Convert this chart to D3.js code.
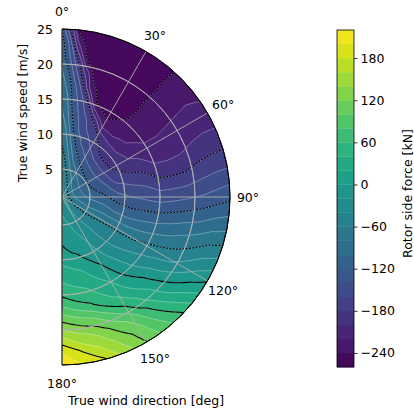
<!DOCTYPE html>
<html>
<head>
<meta charset="utf-8">
<script src="https://cdn.jsdelivr.net/npm/d3@7"></script>
<style>
  body { margin: 0; background: #ffffff; }
  svg { display: block; font-family: "DejaVu Sans", sans-serif; }
</style>
</head>
<body>
<svg id="chart" width="414" height="412"></svg>
<script>
// True wind direction [deg] (columns) and true wind speed [m/s] (rows)
const windAngles = [0, 3, 6, 10, 15, 20, 30, 40, 50, 60, 70, 80, 90, 105, 120, 135, 150, 165, 180];
const windSpeeds = [1, 3, 5, 7, 9, 11, 13, 15, 17, 19, 21, 23, 25];

// Rotor side force [kN], one row per wind speed
const force01 = [-35, -35, -35, -35, -35, -35, -35, -35, -35, -35, -35, -35, -35, -35, -35, -35, -35, -35, -35];
const force03 = [-40, -41, -43, -47, -53, -59, -70, -78, -84, -88, -89, -88, -84, -75, -63, -50, -38, -28, -22];
const force05 = [-48, -51, -56, -64, -75, -85, -100, -110, -115, -117, -117, -113, -105, -88, -67, -48, -32, -20, -13];
const force07 = [-55, -60, -70, -85, -103, -115, -133, -142, -146, -145, -138, -128, -116, -92, -64, -44, -25, -12, -5];
const force09 = [-62, -70, -84, -105, -125, -140, -160, -178, -183, -180, -170, -152, -132, -103, -62, -42, -18, -4, 6];
const force11 = [-70, -80, -100, -125, -145, -158, -178, -198, -200, -196, -180, -160, -140, -108, -63, -38, -8, 14, 22];
const force13 = [-78, -88, -115, -135, -155, -172, -236, -232, -220, -205, -186, -165, -145, -105, -62, -28, 6, 28, 38];
const force15 = [-85, -97, -122, -145, -175, -238, -246, -239, -228, -216, -200, -177, -150, -102, -55, -18, 20, 44, 56];
const force17 = [-92, -105, -130, -165, -228, -248, -248, -241, -230, -216, -202, -178, -147, -96, -50, -2, 34, 63, 86];
const force19 = [-98, -118, -150, -195, -246, -250, -249, -241, -228, -214, -200, -176, -143, -88, -44, 14, 60, 102, 122];
const force21 = [-105, -135, -172, -238, -250, -252, -250, -242, -226, -212, -195, -168, -138, -82, -30, 28, 92, 134, 160];
const force23 = [-110, -145, -215, -250, -253, -254, -251, -242, -225, -210, -192, -163, -132, -72, -15, 48, 111, 157, 196];
const force25 = [-120, -180, -243, -251, -255, -256, -254, -243, -228, -213, -190, -160, -125, -68, -2, 67, 122, 182, 215];
const sideForce = [force01, force03, force05, force07, force09, force11, force13,
                   force15, force17, force19, force21, force23, force25];

// Filled levels, labelled contour levels and tick labels
const fillLevels = d3.range(-260, 221, 20);
const lineLevels = d3.range(-240, 181, 60);
const angleTicks = [0, 30, 60, 90, 120, 150, 180];
const speedTicks = [5, 10, 15, 20, 25];
const colorTicks = [-240, -180, -120, -60, 0, 60, 120, 180];

const svg = d3.select("#chart");
const cx = 62, cy = 197, R = 168;
const fontSize = 12.5;

const rScale = d3.scaleLinear().domain([1, 25]).range([0, R]);
const aScale = d3.scaleLinear().domain([0, 180]).range([0, Math.PI]);
const cScale = d3.scaleLinear().domain([fillLevels[0], fillLevels[fillLevels.length - 1]]).range([0, 1]);
const bandColor = lo => d3.interpolateViridis(cScale(lo + 10));

const n = windAngles.length, m = windSpeeds.length;
const grid = [];
for (let j = 0; j < m; j++) for (let i = 0; i < n; i++) grid.push(sideForce[j][i]);

const angAt = d3.scaleLinear().domain(d3.range(n)).range(windAngles);
const spdAt = d3.scaleLinear().domain(d3.range(m)).range(windSpeeds);

function polar(theta, v) {
  const p = d3.pointRadial(aScale(theta), rScale(v));
  return [cx + p[0], cy + p[1]];
}
// contour space -> fractional grid index
function toIdx(p) {
  return [Math.max(0, Math.min(n - 1, p[0] - 0.5)), Math.max(0, Math.min(m - 1, p[1] - 0.5))];
}
function idxToXY(q) { return polar(angAt(q[0]), spdAt(q[1])); }
function densify(pts) {
  const q = pts.map(toIdx);
  const out = [idxToXY(q[0])];
  for (let k = 1; k < q.length; k++) {
    const a = q[k - 1], b = q[k];
    const len = Math.hypot(b[0] - a[0], b[1] - a[1]);
    const steps = Math.max(2, Math.ceil(len * 10));
    for (let s = 1; s <= steps; s++) {
      const t = s / steps;
      out.push(idxToXY([a[0] + (b[0] - a[0]) * t, a[1] + (b[1] - a[1]) * t]));
    }
  }
  return out;
}
const lineGen = d3.line();

// clip to the half disc
const defs = svg.append("defs");
const halfDisc = d3.arc().innerRadius(0).outerRadius(R).startAngle(0).endAngle(Math.PI)();
defs.append("clipPath").attr("id", "plotClip")
  .append("path").attr("d", halfDisc).attr("transform", `translate(${cx},${cy})`);

const plot = svg.append("g").attr("clip-path", "url(#plotClip)");

// filled contours
const contourGen = d3.contours().size([n, m]);
fillLevels.slice(0, -1).forEach(lo => {
  const geo = contourGen.contour(grid, lo);
  let d = "";
  geo.coordinates.forEach(poly => poly.forEach(ring => {
    d += lineGen(densify(ring)) + "Z";
  }));
  if (d) plot.append("path").attr("d", d).attr("fill", bandColor(lo))
    .attr("stroke", bandColor(lo)).attr("stroke-width", 0.3).attr("fill-rule", "evenodd");
});

// iso lines: drop the pieces that run along the grid border
function isoLines(level) {
  const geo = contourGen.contour(grid, level);
  const onB = (a, b) => (a[0] === 0 && b[0] === 0) || (a[0] === n && b[0] === n) ||
                        (a[1] === 0 && b[1] === 0) || (a[1] === m && b[1] === m);
  const lines = [];
  geo.coordinates.forEach(poly => poly.forEach(ring => {
    const pts = ring.slice();
    const last = pts[pts.length - 1];
    if (pts.length > 1 && pts[0][0] === last[0] && pts[0][1] === last[1]) pts.pop();
    const N = pts.length;
    let start = -1;
    for (let k = 0; k < N; k++) if (onB(pts[k], pts[(k + 1) % N])) { start = k; break; }
    if (start < 0) { lines.push(pts.concat([pts[0]])); return; }
    let cur = [];
    for (let s = 1; s <= N; s++) {
      const k = (start + s) % N, k1 = (k + 1) % N;
      if (onB(pts[k], pts[k1])) { if (cur.length > 1) lines.push(cur); cur = []; }
      else { if (!cur.length) cur.push(pts[k]); cur.push(pts[k1]); }
    }
    if (cur.length > 1) lines.push(cur);
  }));
  return lines.map(densify);
}

fillLevels.forEach(lv => {
  isoLines(lv).forEach(pl => plot.append("path").attr("d", lineGen(pl))
    .attr("fill", "none").attr("stroke", "#ffffff").attr("stroke-opacity", 0.55).attr("stroke-width", 0.6));
});
lineLevels.forEach(lv => {
  isoLines(lv).forEach(pl => plot.append("path").attr("d", lineGen(pl))
    .attr("fill", "none").attr("stroke", "#000000").attr("stroke-width", 1.1)
    .attr("stroke-dasharray", lv < 0 ? "2,1.3" : null));
});

// grid
const gridG = svg.append("g").attr("stroke", "#b0b0b0").attr("stroke-width", 0.9).attr("fill", "none");
speedTicks.filter(v => v < 25).forEach(v => {
  gridG.append("path").attr("transform", `translate(${cx},${cy})`)
    .attr("d", d3.arc().innerRadius(rScale(v)).outerRadius(rScale(v)).startAngle(0).endAngle(Math.PI)());
});
angleTicks.forEach(t => {
  const p = polar(t, 25);
  gridG.append("line").attr("x1", cx).attr("y1", cy).attr("x2", p[0]).attr("y2", p[1]);
});

// spines
svg.append("path").attr("transform", `translate(${cx},${cy})`)
  .attr("d", d3.arc().innerRadius(R).outerRadius(R).startAngle(0).endAngle(Math.PI)())
  .attr("fill", "none").attr("stroke", "#000").attr("stroke-width", 0.9);
svg.append("line").attr("x1", cx).attr("x2", cx).attr("y1", cy - R).attr("y2", cy + R)
  .attr("stroke", "#000").attr("stroke-width", 0.9);

// angle tick labels
angleTicks.forEach(t => {
  const r = R + 18;
  const p = d3.pointRadial(aScale(t), r);
  svg.append("text").attr("x", cx + p[0]).attr("y", cy + p[1]).attr("text-anchor", "middle")
    .attr("dominant-baseline", "central").attr("font-size", fontSize).attr("fill", "#000").text(t + "°");
});
// speed tick labels
speedTicks.forEach(v => {
  svg.append("text").attr("x", cx - 9).attr("y", cy - rScale(v)).attr("text-anchor", "end")
    .attr("dominant-baseline", "central").attr("font-size", fontSize).attr("fill", "#000").text(v);
});
// axis labels
svg.append("text").attr("transform", `translate(22,${cy - R / 2}) rotate(-90)`).attr("text-anchor", "middle")
  .attr("dominant-baseline", "central").attr("font-size", fontSize).text("True wind speed [m/s]");
svg.append("text").attr("x", cx + R / 2).attr("y", 400).attr("text-anchor", "middle")
  .attr("dominant-baseline", "central").attr("font-size", fontSize).text("True wind direction [deg]");

// colorbar
const cbX = 337, cbW = 17, cbTop = 30, cbBot = 367;
const cbScale = d3.scaleLinear().domain([fillLevels[0], fillLevels[fillLevels.length - 1]]).range([cbBot, cbTop]);
const cb = svg.append("g");
fillLevels.slice(0, -1).forEach(lo => {
  cb.append("rect").attr("x", cbX).attr("width", cbW)
    .attr("y", cbScale(lo + 20)).attr("height", cbScale(lo) - cbScale(lo + 20) + 0.3)
    .attr("fill", bandColor(lo));
});
cb.append("rect").attr("x", cbX).attr("y", cbTop).attr("width", cbW).attr("height", cbBot - cbTop)
  .attr("fill", "none").attr("stroke", "#000").attr("stroke-width", 0.8);
const cbAxis = d3.axisRight(cbScale).tickValues(colorTicks).tickSize(3.5).tickPadding(3)
  .tickFormat(d => d < 0 ? "\u2212" + Math.abs(d) : String(d));
const cbAxisG = svg.append("g").attr("transform", `translate(${cbX + cbW},0)`).call(cbAxis);
cbAxisG.select(".domain").remove();
cbAxisG.selectAll("text").attr("font-size", fontSize).attr("font-family", "DejaVu Sans, sans-serif").attr("fill", "#000");
cbAxisG.selectAll("line").attr("stroke", "#000").attr("stroke-width", 0.8);
svg.append("text").attr("transform", `translate(407,${(cbTop + cbBot) / 2 - 5}) rotate(-90)`)
  .attr("text-anchor", "middle").attr("dominant-baseline", "central").attr("font-size", fontSize)
  .text("Rotor side force [kN]");
</script>
</body>
</html>
